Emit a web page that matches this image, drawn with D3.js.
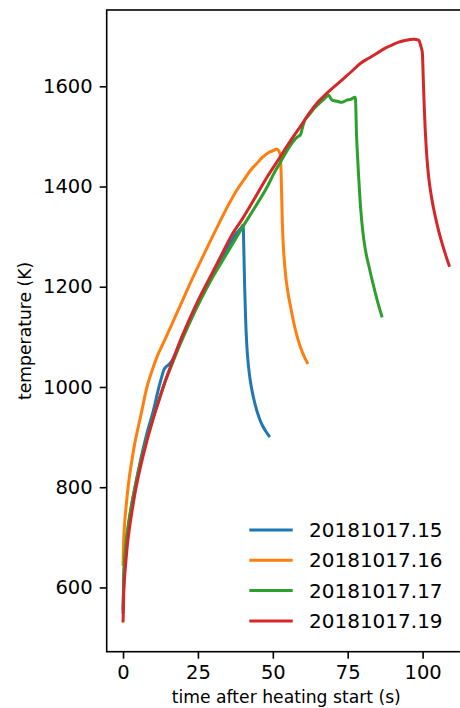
<!DOCTYPE html>
<html>
<head>
<meta charset="utf-8">
<script src="https://cdn.jsdelivr.net/npm/d3@7"></script>
<style>
  html, body { margin: 0; padding: 0; background: #fff; }
  svg { display: block; font-family: "DejaVu Sans", sans-serif; }
</style>
</head>
<body>
<svg id="chart" width="460" height="708"></svg>
<script>
// Run labels and their line colours
const runNames = ["20181017.15", "20181017.16", "20181017.17", "20181017.19"];
const runColors = ["#1f77b4", "#ff7f0e", "#2ca02c", "#d62728"];

// Temperature histories: [time (s), temperature (K)]
const run15 = [
  [0, 548], [0.25, 618], [0.5, 648], [1, 686], [2, 730], [3, 768], [4, 800], [5, 830],
  [6, 858], [8, 908], [10, 950], [12, 1000], [13, 1022], [13.6, 1034], [14.3, 1040],
  [15.2, 1044], [16.3, 1052], [17.5, 1066], [19, 1090], [22, 1128], [25, 1166],
  [28, 1202], [30, 1225], [33, 1258], [36, 1290], [38, 1308], [39.5, 1318], [40.1, 1323],
  [40.3, 1280], [40.6, 1200], [40.9, 1140], [41.3, 1085], [41.9, 1040], [42.6, 1008],
  [43.5, 980], [44.8, 950], [46, 930], [47.5, 913], [49, 900]
];
const run16 = [
  [0, 643], [0.2, 690], [0.5, 725], [1, 760], [1.5, 790], [2, 815], [3, 855], [4, 890],
  [5, 918], [6, 945], [8, 1000], [10, 1038], [11.4, 1061], [13, 1082], [15, 1108],
  [18, 1148], [21, 1188], [23.6, 1222], [26, 1252], [29.2, 1292], [32, 1326],
  [35.8, 1370], [38, 1393], [40.3, 1413], [42.5, 1432], [44.8, 1447], [46.5, 1458],
  [48.6, 1468], [50.3, 1472], [51.3, 1475], [52, 1471], [52.5, 1463], [52.8, 1420],
  [53, 1370], [53.2, 1325], [53.4, 1294], [53.8, 1255], [54.2, 1227], [55, 1190],
  [55.9, 1161], [57, 1128], [58.1, 1101], [59.8, 1070], [61.7, 1046]
];
const run17 = [
  [0, 555], [0.25, 625], [0.5, 655], [1, 690], [2, 735], [3, 770], [4, 800], [5, 828],
  [6, 853], [8, 898], [10, 938], [12, 975], [14, 1010], [16, 1040], [18, 1070],
  [20, 1098], [22, 1125], [25, 1163], [28, 1198], [30, 1220], [33, 1250], [36, 1280],
  [40, 1320], [44, 1358], [48, 1398], [51, 1433], [52, 1443], [54, 1464], [56, 1483],
  [57.5, 1495], [58.5, 1500], [59.2, 1503], [59.8, 1515], [60.5, 1530], [62, 1542],
  [63.7, 1555], [65.5, 1566], [67, 1574], [68.7, 1582], [69.3, 1576], [70, 1572],
  [71.5, 1570], [73, 1568], [74.5, 1572], [76, 1574], [77.5, 1578], [77.7, 1560],
  [77.9, 1510], [78.2, 1470], [78.6, 1425], [79.1, 1375], [79.7, 1330], [80.4, 1293],
  [81.2, 1264], [82, 1243], [82.8, 1222], [83.7, 1200], [84.8, 1174], [85.7, 1155],
  [86.5, 1139]
];
const run19 = [
  [0, 530], [0.25, 590], [0.5, 618], [1, 655], [1.5, 688], [2, 712], [3, 752], [4, 788],
  [5, 818], [6, 845], [8, 893], [10, 935], [12, 973], [14, 1010], [16, 1043], [18, 1075],
  [20, 1105], [22, 1133], [25, 1172], [28, 1207], [30, 1230], [33, 1265], [36, 1300],
  [40, 1337], [44, 1377], [48, 1418], [52, 1455], [56, 1492], [59, 1518], [62.6, 1550],
  [65, 1568], [68, 1586], [71, 1602], [73.7, 1616], [76, 1628], [79.3, 1646], [82, 1656],
  [84.8, 1666], [87.5, 1676], [90.4, 1684], [92, 1688], [93.7, 1691], [95.5, 1693],
  [97, 1694], [98.7, 1692], [99.4, 1680], [99.9, 1668], [100.2, 1620], [100.5, 1565],
  [100.9, 1510], [101.4, 1460], [102, 1420], [102.8, 1385], [103.7, 1355], [104.8, 1325],
  [106, 1297], [107.5, 1267], [109, 1240]
];
const runs = [run15, run16, run17, run19];

// Axis ticks
const xTicks = [0, 25, 50, 75, 100];
const yTicks = [600, 800, 1000, 1200, 1400, 1600];

const svg = d3.select("#chart");
const plot = { left: 106.7, top: 10, right: 465.9, bottom: 651.7 };

// Data limits padded by 5% on each side
const all = runs.flat();
const xExt = d3.extent(all, d => d[0]);
const yExt = d3.extent(all, d => d[1]);
const xPad = (xExt[1] - xExt[0]) * 0.05;
const yPad = (yExt[1] - yExt[0]) * 0.05;

const x = d3.scaleLinear().domain([xExt[0] - xPad, xExt[1] + xPad]).range([plot.left, plot.right]);
const y = d3.scaleLinear().domain([yExt[0] - yPad, yExt[1] + yPad]).range([plot.bottom, plot.top]);

// Curves
const line = d3.line().x(d => x(d[0])).y(d => y(d[1])).curve(d3.curveMonotoneX);
svg.append("g").selectAll("path")
  .data(runs)
  .join("path")
  .attr("d", line)
  .attr("fill", "none")
  .attr("stroke", (d, i) => runColors[i])
  .attr("stroke-width", 3)
  .attr("stroke-linejoin", "round")
  .attr("stroke-linecap", "butt");

// Axes
const fmt = d3.format("d");
const xAxis = svg.append("g")
  .attr("transform", `translate(0,${plot.bottom})`)
  .call(d3.axisBottom(x).tickValues(xTicks).tickFormat(fmt).tickSize(7).tickPadding(6).tickSizeOuter(0));
const yAxis = svg.append("g")
  .attr("transform", `translate(${plot.left},0)`)
  .call(d3.axisLeft(y).tickValues(yTicks).tickFormat(fmt).tickSize(7).tickPadding(7).tickSizeOuter(0));

[xAxis, yAxis].forEach(g => {
  g.select(".domain").remove();
  g.selectAll(".tick line").attr("stroke", "#000").attr("stroke-width", 1.6);
  g.selectAll(".tick text")
    .attr("fill", "#000")
    .style("font-family", "'DejaVu Sans', sans-serif")
    .style("font-size", "19.5px");
});

// Axes frame
svg.append("rect")
  .attr("x", plot.left).attr("y", plot.top)
  .attr("width", plot.right - plot.left).attr("height", plot.bottom - plot.top)
  .attr("fill", "none").attr("stroke", "#000").attr("stroke-width", 1.6);

// Axis titles
svg.append("text")
  .attr("x", (plot.left + plot.right) / 2)
  .attr("y", 703)
  .attr("text-anchor", "middle")
  .style("font-size", "17.2px")
  .text("time after heating start (s)");

svg.append("text")
  .attr("transform", `translate(30.5,${(plot.top + plot.bottom) / 2}) rotate(-90)`)
  .attr("text-anchor", "middle")
  .style("font-size", "17.2px")
  .text("temperature (K)");

// Legend
const legend = svg.append("g").attr("transform", "translate(249.3,530)");
const item = legend.selectAll("g")
  .data(runNames)
  .join("g")
  .attr("transform", (d, i) => `translate(0,${i * 30.3})`);
item.append("line")
  .attr("x1", 0).attr("x2", 43.4)
  .attr("stroke", (d, i) => runColors[i])
  .attr("stroke-width", 3);
item.append("text")
  .attr("x", 59.7)
  .attr("y", 7)
  .style("font-size", "20px")
  .text(d => d);
</script>
</body>
</html>
